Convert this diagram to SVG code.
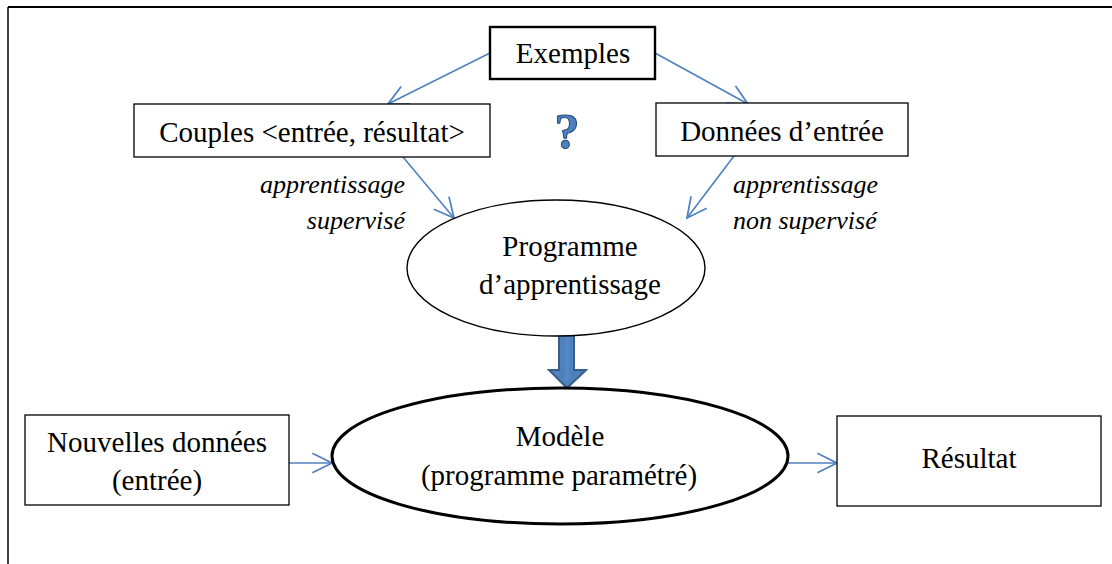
<svg xmlns="http://www.w3.org/2000/svg" width="1112" height="564" viewBox="0 0 1112 564">
  <defs>
    <style>
      .box { fill: #ffffff; stroke: #000000; stroke-width: 1.3; }
      .box-strong { fill: #ffffff; stroke: #000000; stroke-width: 2.4; }
      .oval { fill: #ffffff; stroke: #000000; stroke-width: 1.4; }
      .oval-strong { fill: #ffffff; stroke: #000000; stroke-width: 3; }
      .label { font-size: 29px; fill: #000000; text-anchor: middle; }
      .note { font-size: 26px; font-style: italic; fill: #000000; }
      .link { fill: none; stroke: #4F81BD; stroke-width: 1.6; }
    </style>
    <marker id="chevron" markerUnits="userSpaceOnUse" markerWidth="24" markerHeight="24" viewBox="-20 -11 22 22" refX="0" refY="0" orient="auto">
      <path d="M-18,-9 L0,0 L-18,9" fill="none" stroke="#4F81BD" stroke-width="1.6"/>
    </marker>
    <linearGradient id="shaftShade" x1="0" y1="0" x2="1" y2="0">
      <stop offset="0" stop-color="#3F6FA8"/>
      <stop offset="0.5" stop-color="#5A8FCF"/>
      <stop offset="1" stop-color="#3F6FA8"/>
    </linearGradient>
  </defs>

  <!-- page frame -->
  <g id="frame">
    <line x1="8" y1="7" x2="1112" y2="7" stroke="#000" stroke-width="2"/>
    <line x1="8" y1="7" x2="8" y2="564" stroke="#000" stroke-width="1.5"/>
  </g>

  <!-- connectors -->
  <g id="connectors">
    <line class="link" x1="490" y1="53" x2="388" y2="104" marker-end="url(#chevron)"/>
    <line class="link" x1="655" y1="53" x2="748" y2="104" marker-end="url(#chevron)"/>
    <line class="link" x1="403" y1="157" x2="454" y2="218" marker-end="url(#chevron)"/>
    <line class="link" x1="734" y1="156" x2="687" y2="218" marker-end="url(#chevron)"/>
    <line class="link" x1="289" y1="463" x2="332" y2="463" marker-end="url(#chevron)"/>
    <line class="link" x1="788" y1="463" x2="837" y2="463" marker-end="url(#chevron)"/>
    <!-- block arrow from learner to model -->
    <g id="block-arrow">
      <polygon points="559,334 574,334 574,370 586,370 567,388 549,370 559,370" fill="#4F81BD" stroke="#385D8A" stroke-width="2"/>
      <polygon points="563,338 570,338 570,374 575,374 567,382 559,374 563,374" fill="url(#shaftShade)" opacity="0.6"/>
    </g>
  </g>

  <g id="exemples">
    <rect class="box-strong" x="490" y="27" width="165" height="52"/>
    <text class="label" font-family="Liberation Serif, serif" x="573" y="63">Exemples</text>
  </g>

  <g id="question">
    <text x="567" y="148" font-family="Liberation Serif, serif" font-size="50" font-weight="bold" fill="#4F81BD" stroke="#1F497D" stroke-width="1" text-anchor="middle">?</text>
  </g>

  <g id="couples">
    <rect class="box" x="134" y="104" width="356" height="53"/>
    <text class="label" font-family="Liberation Serif, serif" x="312" y="142">Couples &lt;entrée, résultat&gt;</text>
  </g>

  <g id="donnees">
    <rect class="box" x="656" y="103" width="252" height="53"/>
    <text class="label" font-family="Liberation Serif, serif" x="782" y="141">Données d’entrée</text>
  </g>

  <g id="label-supervise">
    <text class="note" font-family="Liberation Serif, serif" x="405" y="193" text-anchor="end">apprentissage</text>
    <text class="note" font-family="Liberation Serif, serif" x="405" y="229" text-anchor="end">supervisé</text>
  </g>

  <g id="label-non-supervise">
    <text class="note" font-family="Liberation Serif, serif" x="733" y="193">apprentissage</text>
    <text class="note" font-family="Liberation Serif, serif" x="733" y="229">non supervisé</text>
  </g>

  <g id="programme">
    <ellipse class="oval" cx="556" cy="268" rx="149" ry="68"/>
    <text class="label" font-family="Liberation Serif, serif" x="570" y="256">Programme</text>
    <text class="label" font-family="Liberation Serif, serif" x="570" y="294">d’apprentissage</text>
  </g>

  <g id="modele">
    <ellipse class="oval-strong" cx="560" cy="456" rx="228" ry="68"/>
    <text class="label" font-family="Liberation Serif, serif" x="560" y="446">Modèle</text>
    <text class="label" font-family="Liberation Serif, serif" x="559" y="485">(programme paramétré)</text>
  </g>

  <g id="nouvelles">
    <rect class="box" x="25" y="415" width="264" height="90"/>
    <text class="label" font-family="Liberation Serif, serif" x="157" y="452">Nouvelles données</text>
    <text class="label" font-family="Liberation Serif, serif" x="157" y="490">(entrée)</text>
  </g>

  <g id="resultat">
    <rect class="box" x="837" y="416" width="264" height="90"/>
    <text class="label" font-family="Liberation Serif, serif" x="969" y="468">Résultat</text>
  </g>
</svg>
